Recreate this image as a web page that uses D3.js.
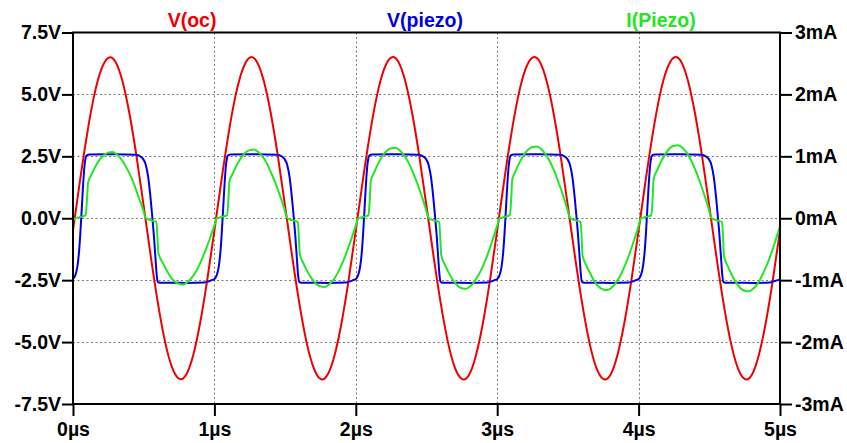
<!DOCTYPE html>
<html>
<head>
<meta charset="utf-8">
<script src="https://cdn.jsdelivr.net/npm/d3@7"></script>
<style>
  html, body { margin: 0; padding: 0; background: #ffffff; }
  svg text { font-family: "Liberation Sans", Arial, sans-serif; font-weight: bold; }
</style>
</head>
<body>
<svg id="chart" width="847" height="443"></svg>
<script>
// Axis ticks
const timeTicks = [0, 1, 2, 3, 4, 5];                 // µs
const voltTicks = [-7.5, -5, -2.5, 0, 2.5, 5, 7.5];   // V (left axis)
const currentTicks = [-3, -2, -1, 0, 1, 2, 3];        // mA (right axis)
const timeLabels = ["0µs", "1µs", "2µs", "3µs", "4µs", "5µs"];
const voltLabels = ["-7.5V", "-5.0V", "-2.5V", "0.0V", "2.5V", "5.0V", "7.5V"];
const currentLabels = ["-3mA", "-2mA", "-1mA", "0mA", "1mA", "2mA", "3mA"];

// Trace names
const traceNames = ["V(oc)", "V(piezo)", "I(Piezo)"];

// V(oc): open-circuit voltage, sampled every 0.05 µs from 0 to 5 µs (V)
const vocStep = 0.05;
const vocValues = [
  -0.49, 1.54, 3.41, 4.96, 6.01, 6.48, 6.32, 5.53, 4.20, 2.47, 0.49, -1.54, -3.41, -4.96, -6.01, -6.48, -6.32, -5.53, -4.20, -2.47,
  -0.49, 1.54, 3.41, 4.96, 6.01, 6.49, 6.32, 5.53, 4.20, 2.47, 0.49, -1.54, -3.41, -4.96, -6.01, -6.49, -6.32, -5.53, -4.20, -2.47,
  -0.49, 1.54, 3.41, 4.96, 6.02, 6.49, 6.33, 5.53, 4.20, 2.47, 0.49, -1.54, -3.41, -4.96, -6.02, -6.49, -6.33, -5.53, -4.20, -2.47,
  -0.49, 1.54, 3.41, 4.96, 6.02, 6.49, 6.33, 5.53, 4.20, 2.47, 0.49, -1.54, -3.41, -4.96, -6.02, -6.49, -6.33, -5.53, -4.20, -2.47,
  -0.49, 1.54, 3.41, 4.96, 6.02, 6.49, 6.33, 5.53, 4.20, 2.47, 0.49, -1.54, -3.41, -4.96, -6.02, -6.49, -6.33, -5.53, -4.20, -2.47,
  -0.49
];

// V(piezo): [time µs, volts]
const piezoV = [
  [0.000,-2.46],[0.015,-2.32],[0.030,-1.98],[0.042,-1.40],[0.052,-0.60],[0.062,0.40],[0.072,1.40],[0.082,2.15],[0.090,2.45],[0.098,2.55],[0.115,2.57],[0.300,2.58],[0.440,2.56],[0.470,2.52],[0.495,2.40],[0.515,2.15],[0.532,1.65],[0.547,0.90],[0.560,0.10],[0.572,-0.70],[0.583,-1.60],[0.592,-2.30],[0.599,-2.56],[0.615,-2.60],[0.800,-2.61],[0.930,-2.59],[0.960,-2.55],[0.985,-2.49],
  [1.000,-2.46],[1.015,-2.32],[1.030,-1.98],[1.042,-1.40],[1.052,-0.60],[1.062,0.40],[1.072,1.40],[1.082,2.15],[1.090,2.45],[1.098,2.55],[1.115,2.57],[1.300,2.58],[1.440,2.56],[1.470,2.52],[1.495,2.40],[1.515,2.15],[1.532,1.65],[1.547,0.90],[1.560,0.10],[1.572,-0.70],[1.583,-1.60],[1.592,-2.30],[1.599,-2.56],[1.615,-2.60],[1.800,-2.61],[1.930,-2.59],[1.960,-2.55],[1.985,-2.49],
  [2.000,-2.46],[2.015,-2.32],[2.030,-1.98],[2.042,-1.40],[2.052,-0.60],[2.062,0.40],[2.072,1.40],[2.082,2.15],[2.090,2.45],[2.098,2.55],[2.115,2.57],[2.300,2.58],[2.440,2.56],[2.470,2.52],[2.495,2.40],[2.515,2.15],[2.532,1.65],[2.547,0.90],[2.560,0.10],[2.572,-0.70],[2.583,-1.60],[2.592,-2.30],[2.599,-2.56],[2.615,-2.60],[2.800,-2.61],[2.930,-2.59],[2.960,-2.55],[2.985,-2.49],
  [3.000,-2.46],[3.015,-2.32],[3.030,-1.98],[3.042,-1.40],[3.052,-0.60],[3.062,0.40],[3.072,1.40],[3.082,2.15],[3.090,2.45],[3.098,2.55],[3.115,2.57],[3.300,2.58],[3.440,2.56],[3.470,2.52],[3.495,2.40],[3.515,2.15],[3.532,1.65],[3.547,0.90],[3.560,0.10],[3.572,-0.70],[3.583,-1.60],[3.592,-2.30],[3.599,-2.56],[3.615,-2.60],[3.800,-2.61],[3.930,-2.59],[3.960,-2.55],[3.985,-2.49],
  [4.000,-2.46],[4.015,-2.32],[4.030,-1.98],[4.042,-1.40],[4.052,-0.60],[4.062,0.40],[4.072,1.40],[4.082,2.15],[4.090,2.45],[4.098,2.55],[4.115,2.57],[4.300,2.58],[4.440,2.56],[4.470,2.52],[4.495,2.40],[4.515,2.15],[4.532,1.65],[4.547,0.90],[4.560,0.10],[4.572,-0.70],[4.583,-1.60],[4.592,-2.30],[4.599,-2.56],[4.615,-2.60],[4.800,-2.61],[4.930,-2.59],[4.960,-2.54],[4.985,-2.50],
  [5.000,-2.47]
];

// I(Piezo): [time µs, milliamps]
const piezoI = [
  [0.000,-0.03],[0.017,0.00],[0.050,0.02],[0.090,0.05],[0.100,0.35],[0.106,0.57],[0.13,0.70],[0.16,0.84],[0.19,0.95],[0.22,1.02],[0.25,1.06],[0.28,1.07],[0.31,1.03],[0.34,0.96],[0.37,0.85],[0.40,0.72],[0.43,0.56],[0.46,0.37],[0.49,0.18],[0.517,0.00],[0.55,-0.03],[0.59,-0.06],[0.598,-0.35],[0.604,-0.56],[0.63,-0.70],[0.66,-0.83],[0.69,-0.95],[0.72,-1.02],[0.75,-1.06],[0.78,-1.07],[0.81,-1.03],[0.84,-0.96],[0.87,-0.86],[0.90,-0.72],[0.93,-0.56],[0.96,-0.38],[0.99,-0.18],
  [1.000,-0.12],[1.017,0.00],[1.050,0.02],[1.090,0.05],[1.100,0.35],[1.106,0.59],[1.13,0.72],[1.16,0.87],[1.19,0.98],[1.22,1.06],[1.25,1.10],[1.28,1.11],[1.31,1.07],[1.34,1.00],[1.37,0.89],[1.40,0.74],[1.43,0.58],[1.46,0.39],[1.49,0.19],[1.517,0.00],[1.55,-0.03],[1.59,-0.06],[1.598,-0.35],[1.604,-0.58],[1.63,-0.73],[1.66,-0.87],[1.69,-0.98],[1.72,-1.06],[1.75,-1.10],[1.78,-1.11],[1.81,-1.07],[1.84,-1.00],[1.87,-0.89],[1.90,-0.75],[1.93,-0.58],[1.96,-0.39],[1.99,-0.19],
  [2.000,-0.12],[2.017,0.00],[2.050,0.02],[2.090,0.05],[2.100,0.35],[2.106,0.60],[2.13,0.74],[2.16,0.89],[2.19,1.01],[2.22,1.09],[2.25,1.13],[2.28,1.14],[2.31,1.10],[2.34,1.02],[2.37,0.91],[2.40,0.76],[2.43,0.59],[2.46,0.40],[2.49,0.19],[2.517,0.00],[2.55,-0.03],[2.59,-0.06],[2.598,-0.35],[2.604,-0.59],[2.63,-0.75],[2.66,-0.89],[2.69,-1.01],[2.72,-1.09],[2.75,-1.13],[2.78,-1.14],[2.81,-1.10],[2.84,-1.02],[2.87,-0.91],[2.90,-0.77],[2.93,-0.60],[2.96,-0.40],[2.99,-0.19],
  [3.000,-0.12],[3.017,0.00],[3.050,0.02],[3.090,0.05],[3.100,0.35],[3.106,0.62],[3.13,0.76],[3.16,0.91],[3.19,1.03],[3.22,1.11],[3.25,1.15],[3.28,1.16],[3.31,1.12],[3.34,1.04],[3.37,0.93],[3.40,0.78],[3.43,0.60],[3.46,0.41],[3.49,0.19],[3.517,0.00],[3.55,-0.03],[3.59,-0.06],[3.598,-0.35],[3.604,-0.60],[3.63,-0.76],[3.66,-0.90],[3.69,-1.03],[3.72,-1.11],[3.75,-1.15],[3.78,-1.16],[3.81,-1.12],[3.84,-1.04],[3.87,-0.93],[3.90,-0.78],[3.93,-0.61],[3.96,-0.41],[3.99,-0.20],
  [4.000,-0.12],[4.017,0.00],[4.050,0.02],[4.090,0.05],[4.100,0.35],[4.106,0.63],[4.13,0.77],[4.16,0.92],[4.19,1.04],[4.22,1.13],[4.25,1.17],[4.28,1.18],[4.31,1.14],[4.34,1.06],[4.37,0.94],[4.40,0.79],[4.43,0.61],[4.46,0.41],[4.49,0.20],[4.517,0.00],[4.55,-0.03],[4.59,-0.06],[4.598,-0.35],[4.604,-0.61],[4.63,-0.77],[4.66,-0.92],[4.69,-1.04],[4.72,-1.13],[4.75,-1.17],[4.78,-1.18],[4.81,-1.14],[4.84,-1.06],[4.87,-0.94],[4.90,-0.79],[4.93,-0.62],[4.96,-0.42],[4.99,-0.20],
  [5.000,-0.13]
];

const colors = { voc: "#ee0000", vpiezo: "#0000e6", ipiezo: "#22e622" };

const svg = d3.select("#chart");
const plot = { left: 73, right: 780, top: 32.5, bottom: 404 };

const x = d3.scaleLinear().domain([0, 5]).range([plot.left, plot.right]);
const yV = d3.scaleLinear().domain([-7.5, 7.5]).range([plot.bottom, plot.top]);
const yI = d3.scaleLinear().domain([-3, 3]).range([plot.bottom, plot.top]);

// Dotted grid lines
const grid = svg.append("g").attr("stroke", "#7a7a7a").attr("stroke-width", 1).attr("stroke-dasharray", "2,2.5");
grid.selectAll("line.h").data(voltTicks.filter(v => Math.abs(v) < 7.5)).join("line")
  .attr("x1", plot.left).attr("x2", plot.right)
  .attr("y1", d => Math.round(yV(d)) + 0.5).attr("y2", d => Math.round(yV(d)) + 0.5);
grid.selectAll("line.v").data(timeTicks.filter(t => t > 0 && t < 5)).join("line")
  .attr("y1", plot.top).attr("y2", plot.bottom)
  .attr("x1", d => Math.round(x(d)) + 0.5).attr("x2", d => Math.round(x(d)) + 0.5);

// Traces
const clip = svg.append("clipPath").attr("id", "plotClip").append("rect")
  .attr("x", plot.left).attr("y", plot.top)
  .attr("width", plot.right - plot.left).attr("height", plot.bottom - plot.top);
const traces = svg.append("g").attr("clip-path", "url(#plotClip)").attr("fill", "none")
  .attr("stroke-width", 2).attr("stroke-linejoin", "round");

const vocLine = d3.line().x((d, i) => x(i * vocStep)).y(d => yV(d)).curve(d3.curveNatural);
traces.append("path").attr("d", vocLine(vocValues)).attr("stroke", colors.voc);

const vLine = d3.line().x(d => x(d[0])).y(d => yV(d[1])).curve(d3.curveMonotoneX);
traces.append("path").attr("d", vLine(piezoV)).attr("stroke", colors.vpiezo);

const iLine = d3.line().x(d => x(d[0])).y(d => yI(d[1])).curve(d3.curveMonotoneX);
traces.append("path").attr("d", iLine(piezoI)).attr("stroke", colors.ipiezo);

// Frame
svg.append("rect")
  .attr("x", plot.left).attr("y", plot.top)
  .attr("width", plot.right - plot.left).attr("height", plot.bottom - plot.top)
  .attr("fill", "none").attr("stroke", "#000").attr("stroke-width", 2);

// Axes
const fontSize = 19.5;
const leftAxis = d3.axisLeft(yV).tickValues(voltTicks).tickSize(11).tickPadding(1)
  .tickFormat((d, i) => voltLabels[i]);
const rightAxis = d3.axisRight(yI).tickValues(currentTicks).tickSize(12).tickPadding(3)
  .tickFormat((d, i) => currentLabels[i]);
const bottomAxis = d3.axisBottom(x).tickValues(timeTicks).tickSize(12).tickPadding(6)
  .tickFormat((d, i) => timeLabels[i]);

function styleAxis(g) {
  g.select(".domain").remove();
  g.selectAll(".tick line").attr("stroke", "#000").attr("stroke-width", 2);
  g.selectAll(".tick text").attr("fill", "#000").attr("font-size", fontSize)
    .attr("font-family", "'Liberation Sans', Arial, sans-serif").attr("font-weight", "bold");
}
svg.append("g").attr("transform", `translate(${plot.left},0)`).call(leftAxis).call(styleAxis);
svg.append("g").attr("transform", `translate(${plot.right},0)`).call(rightAxis).call(styleAxis);
svg.append("g").attr("transform", `translate(0,${plot.bottom})`).call(bottomAxis).call(styleAxis);

// Trace titles
const titleX = [192, 425, 661];
const titleColors = [colors.voc, colors.vpiezo, colors.ipiezo];
svg.append("g").selectAll("text").data(traceNames).join("text")
  .attr("x", (d, i) => titleX[i]).attr("y", 27)
  .attr("text-anchor", "middle").attr("font-size", fontSize)
  .attr("fill", (d, i) => titleColors[i])
  .text(d => d);
</script>
</body>
</html>
